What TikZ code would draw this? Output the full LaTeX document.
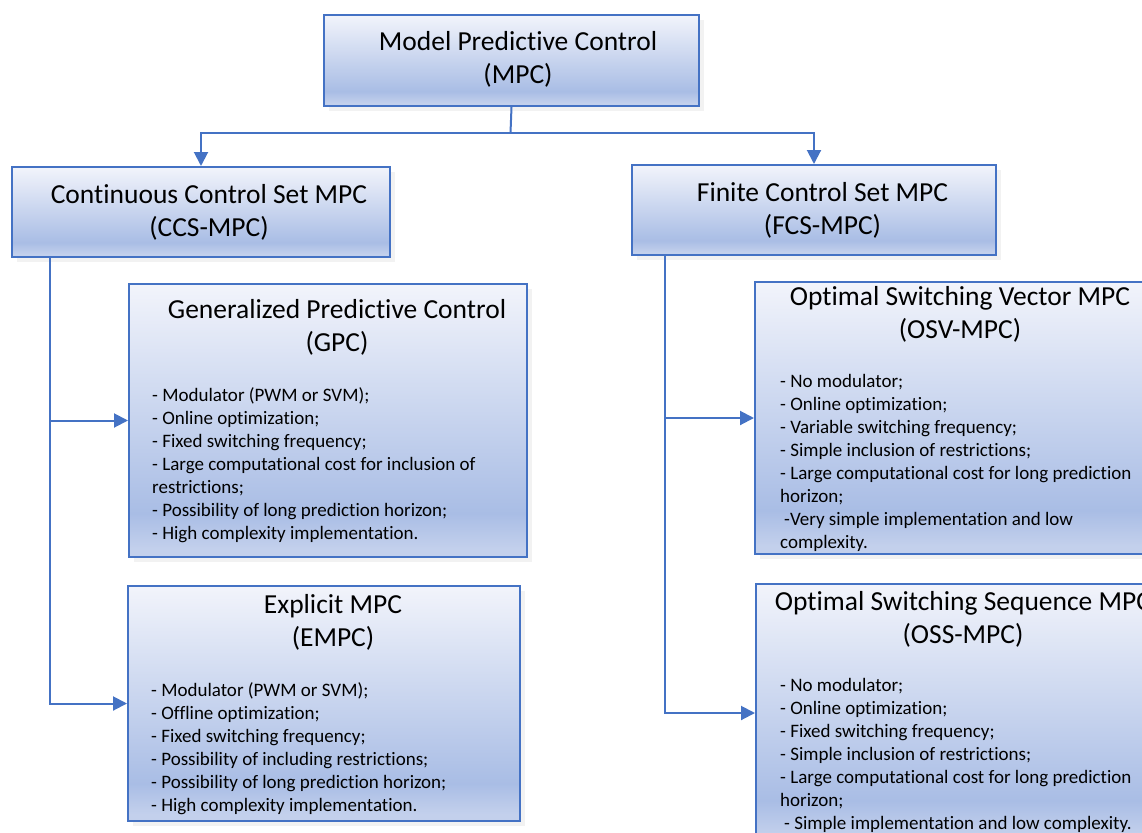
\documentclass[tikz,border=0pt]{standalone}
\usepackage{fontspec}
\setmainfont[Ligatures=NoCommon]{Carlito}
\usetikzlibrary{arrows.meta, positioning, shadows}

\definecolor{mpcblue}{HTML}{4472C4}
\definecolor{filltop}{HTML}{F2F4FB}
\definecolor{filldeep}{HTML}{A9BDE5}
\definecolor{fillbot}{HTML}{C3D0EC}
\pgfdeclareverticalshading{boxshade}{100bp}{color(0bp)=(fillbot); color(25bp)=(fillbot); color(26.5bp)=(fillbot); color(33bp)=(filldeep); color(75bp)=(filltop); color(100bp)=(filltop)}

\tikzset{
  mpcbox/.style={draw=mpcblue, line width=2pt, shade, shading=boxshade, anchor=north west, inner sep=0pt,
    drop shadow={opacity=0.1, shadow xshift=5pt, shadow yshift=-5pt}},
  boxtitle/.style={align=center, inner sep=0pt, font=\fontsize{27.5}{33}\selectfont},
  boxbody/.style={align=left, anchor=north west, inner sep=0pt, font=\fontsize{19}{23}\selectfont},
  link/.style={draw=mpcblue, line width=2pt, -{Triangle[length=14pt,width=14pt]}}
}

\begin{document}
\begin{tikzpicture}[x=1pt,y=-1pt]
\useasboundingbox (0,0) rectangle (1142,832);
\clip (0,0) rectangle (1142,832);
% Draw boxes
\node[mpcbox, minimum width=375pt, minimum height=91pt] (mpc) at (323,14) {};
\node[mpcbox, minimum width=378pt, minimum height=90pt] (ccs) at (11,166) {};
\node[mpcbox, minimum width=364pt, minimum height=90pt] (fcs) at (631,164) {};
\node[mpcbox, minimum width=398pt, minimum height=273pt] (gpc) at (128,283) {};
\node[mpcbox, minimum width=392pt, minimum height=235pt] (empc) at (127,585) {};
\node[mpcbox, minimum width=420pt, minimum height=272pt] (osv) at (754,281) {};
\node[mpcbox, minimum width=420pt, minimum height=258pt] (oss) at (755,583) {};
% Draw titles
\node[boxtitle] (mpc-title) at (518,59) {Model Predictive Control\\(MPC)};
\node[boxtitle] (ccs-title) at (209,212) {Continuous Control Set MPC\\(CCS-MPC)};
\node[boxtitle] (fcs-title) at (822.5,210.5) {Finite Control Set MPC\\(FCS-MPC)};
\node[boxtitle] (gpc-title) at (337,327.5) {Generalized Predictive Control\\(GPC)};
\node[boxtitle] (empc-title) at (333,622) {Explicit MPC\\(EMPC)};
\node[boxtitle] (osv-title) at (960,314) {Optimal Switching Vector MPC\\(OSV-MPC)};
\node[boxtitle] (oss-title) at (963,619) {Optimal Switching Sequence MPC\\(OSS-MPC)};
% Draw lists
\node[boxbody] (gpc-list) at (152,385) {\strut- Modulator (PWM or SVM);\\
  - Online optimization;\\
  - Fixed switching frequency;\\
  - Large computational cost for inclusion of\\
  restrictions;\\
  - Possibility of long prediction horizon;\\
  - High complexity implementation.};
\node[boxbody] (empc-list) at (151,680) {\strut- Modulator (PWM or SVM);\\
  - Offline optimization;\\
  - Fixed switching frequency;\\
  - Possibility of including restrictions;\\
  - Possibility of long prediction horizon;\\
  - High complexity implementation.};
\node[boxbody] (osv-list) at (780,371) {\strut- No modulator;\\
  - Online optimization;\\
  - Variable switching frequency;\\
  - Simple inclusion of restrictions;\\
  - Large computational cost for long prediction\\
  horizon;\\
  \hspace*{4pt}-Very simple implementation and low\\
  complexity.};
\node[boxbody] (oss-list) at (780,675) {\strut- No modulator;\\
  - Online optimization;\\
  - Fixed switching frequency;\\
  - Simple inclusion of restrictions;\\
  - Large computational cost for long prediction\\
  horizon;\\
  \hspace*{4pt}- Simple implementation and low complexity.};
% Draw connectors
\coordinate (split) at (510.5,133);
\draw[draw=mpcblue, line width=2pt] (mpc.south) -- (split);
\draw[link] (split) -| (ccs);
\draw[link] (split) -| (fcs);
\draw[link] ([xshift=39pt]ccs.south west) |- (gpc);
\draw[link] ([xshift=39pt]ccs.south west) |- (empc);
\draw[link] ([xshift=34pt]fcs.south west) |- (osv);
\draw[link] ([xshift=34pt]fcs.south west) |- (oss);
\end{tikzpicture}
\end{document}
